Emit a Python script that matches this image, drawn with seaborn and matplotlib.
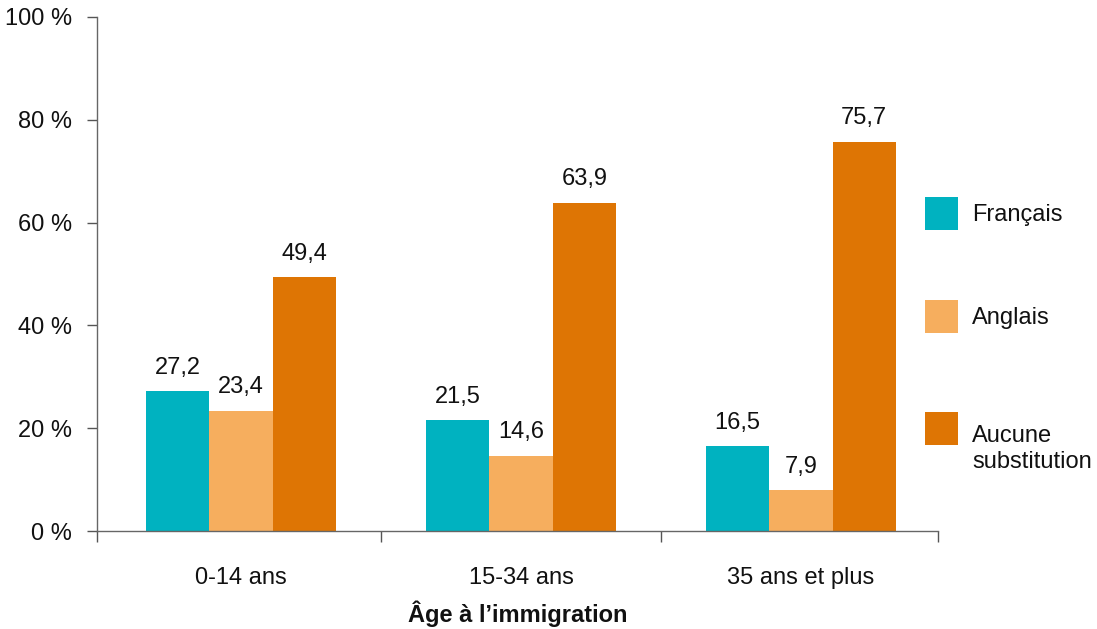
import matplotlib
matplotlib.use("Agg")
import matplotlib.pyplot as plt
from matplotlib.patches import Patch
from matplotlib.ticker import FixedLocator
from matplotlib.transforms import ScaledTranslation
import pandas as pd
import seaborn as sns

# Data
groupes_age = ["0-14 ans", "15-34 ans", "35 ans et plus"]
langues = ["Français", "Anglais", "Aucune\nsubstitution"]
francais = [27.2, 21.5, 16.5]
anglais = [23.4, 14.6, 7.9]
aucune = [49.4, 63.9, 75.7]
couleurs = ["#00B2C0", "#F6AE5E", "#DE7504"]
yticks = [0, 20, 40, 60, 80, 100]

df = pd.DataFrame({
    "age": groupes_age * 3,
    "langue": [langues[0]] * 3 + [langues[1]] * 3 + [langues[2]] * 3,
    "valeur": francais + anglais + aucune,
})

sns.set_theme(style="white")
plt.rcParams["font.family"] = ["Liberation Sans", "DejaVu Sans"]
plt.rcParams["font.size"] = 17

fig = plt.figure(figsize=(10.97, 6.29), dpi=100)
ax = fig.add_axes([0.0884, 0.1558, 0.7666, 0.8172])

sns.barplot(data=df, x="age", y="valeur", hue="langue", order=groupes_age,
            hue_order=langues, palette=couleurs, width=0.68, gap=0,
            saturation=1, linewidth=0, errorbar=None, legend=False, ax=ax)

for cont in ax.containers:
    vals = [b.get_height() for b in cont]
    ax.bar_label(cont, labels=[f"{v:.1f}".replace(".", ",") for v in vals],
                 padding=9, fontsize=17, color="#111111")

x0, x1 = -0.515, 2.49
ax.set_xlim(x0, x1)
ax.set_ylim(0, 100)
ax.set_yticks(yticks)
ax.set_yticklabels([f"{t} %" for t in yticks], fontsize=17, color="#111111")

# Category separators as downward ticks on the x axis
ax.xaxis.set_minor_locator(FixedLocator([x0, 0.5, 1.5, x1]))
ax.tick_params(axis="x", which="major", length=0, pad=26, labelsize=17,
               labelcolor="#111111")
ax.tick_params(axis="x", which="minor", bottom=True, length=8, width=1,
               color="#555555", direction="out")
ax.tick_params(axis="y", left=True, length=7, width=1, color="#555555",
               direction="out", pad=11)

for side in ["top", "right"]:
    ax.spines[side].set_visible(False)
for side in ["left", "bottom"]:
    ax.spines[side].set_color("#666666")
    ax.spines[side].set_linewidth(1)

ax.set_xlabel("Âge à l’immigration", fontsize=17, fontweight="bold",
              color="#111111", labelpad=8)
ax.set_ylabel("")

handles = [Patch(facecolor=c, edgecolor="none", label=l)
           for c, l in zip(couleurs, langues)]
leg = ax.legend(handles=handles, loc="upper left", bbox_to_anchor=(0.973, 0.669),
                frameon=False, fontsize=17, handlelength=1.4, handleheight=1.77,
                handletextpad=0.6, labelspacing=3.0, borderaxespad=0)
for t in leg.get_texts():
    t.set_color("#111111")
# two-line label: first line level with its swatch
last = leg.get_texts()[-1]
last.set_transform(last.get_transform()
                   + ScaledTranslation(0, -0.21, fig.dpi_scale_trans))

fig.savefig("out.png", dpi=100)
